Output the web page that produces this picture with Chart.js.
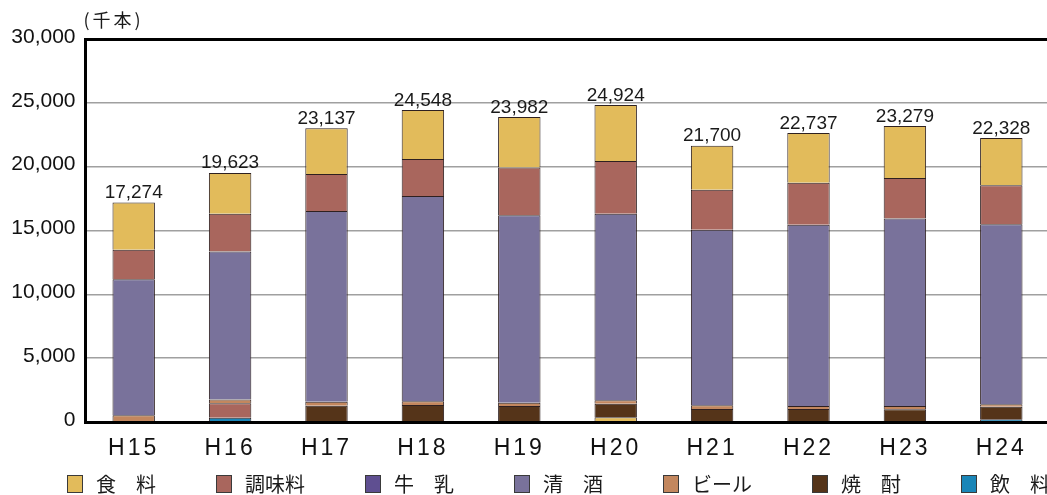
<!DOCTYPE html>
<html><head><meta charset="utf-8">
<script src="https://cdn.jsdelivr.net/npm/chart.js@4/dist/chart.umd.min.js"></script>
<style>
html,body{margin:0;padding:0;overflow:hidden;background:#fff;width:1047px;height:495px}
#wrap{position:absolute;left:0;top:0;width:1100px;height:504px}
</style>
</head><body><div id="wrap"><canvas id="c" width="1100" height="504"></canvas></div>
<script>
// ---- data (values in 千本) ----
const categories = ['H15','H16','H17','H18','H19','H20','H21','H22','H23','H24'];
const totals     = [17274, 19623, 23137, 24548, 23982, 24924, 21700, 22737, 23279, 22328];
const food       = [3700, 3200, 3590, 3830, 3960, 4380, 3440, 3880, 4060, 3700];   // 食料
const seasoning  = [2300, 2950, 2890, 2890, 3730, 4140, 3130, 3300, 3180, 3050];   // 調味料
const milk       = [null, null, null, null, null, null, null, null, null, null];   // 牛乳
const sake       = [10670, 11590, 14950, 16090, 14690, 14610, 13750, 14200, 14690, 14090]; // 清酒
const beer       = [520, 310, 310, 290, 260, 270, 290, 230, 260, 210];             // ビール
const shochu     = [null, 1120, 1270, 1330, 1250, 1060, 1020, 1020, 990, 980];     // 焼酎
const drinks     = [null, 340, null, null, null, 370, null, null, null, 210];      // 飲料
const yTicks     = [0, 5000, 10000, 15000, 20000, 25000, 30000];
const unitLabel  = '(千本)';

// ---- styles ----
const COL = {
  food:'#e2bb5b', seasoning:'#a9665d', milk:'#5f4f91', sake:'#79729b',
  beer:'#c3875e', shochu:'#553419', drinks:'#1a86b8'
};
const shochuColors = categories.map((c,i)=> i===1 ? COL.seasoning : COL.shochu);
const drinksColors = categories.map((c,i)=> i===5 ? COL.food : COL.drinks);

function legendImg(color){
  const c=document.createElement('canvas'); c.width=63; c.height=18;
  const g=c.getContext('2d');
  g.fillStyle=color; g.fillRect(44,0,16,18);
  g.strokeStyle='#3a3a3a'; g.lineWidth=1; g.strokeRect(44.5,0.5,15,17);
  return c;
}

const series = [
  {label:'飲　料', data:drinks,    backgroundColor:drinksColors,  legendColor:COL.drinks},
  {label:'焼　酎', data:shochu,    backgroundColor:shochuColors,  legendColor:COL.shochu},
  {label:'ビール', data:beer,      backgroundColor:COL.beer,      legendColor:COL.beer},
  {label:'清　酒', data:sake,      backgroundColor:COL.sake,      legendColor:COL.sake},
  {label:'牛　乳', data:milk,      backgroundColor:COL.milk,      legendColor:COL.milk},
  {label:'調味料', data:seasoning, backgroundColor:COL.seasoning, legendColor:COL.seasoning},
  {label:'食　料', data:food,      backgroundColor:COL.food,      legendColor:COL.food}
];
const legendImgs = series.map(s=>legendImg(s.legendColor));

const totalsPlugin = {
  id:'totals',
  afterDatasetsDraw(chart){
    const ctx=chart.ctx;
    const meta=chart.getDatasetMeta(chart.data.datasets.length-1);
    ctx.save();
    ctx.font='19px "Liberation Sans", Arial, sans-serif';
    ctx.fillStyle='#1a1a1a'; ctx.textAlign='center'; ctx.textBaseline='alphabetic';
    meta.data.forEach((bar,i)=>{ ctx.fillText(totals[i].toLocaleString('en-US'), bar.x, bar.y-4.5); });
    ctx.restore();
    ctx.letterSpacing='3px';
  },
  afterDraw(chart){
    const ctx=chart.ctx;
    ctx.save();
    ctx.letterSpacing='3px';
    ctx.font='18px "Noto Sans CJK JP", sans-serif';
    ctx.fillStyle='#1a1a1a'; ctx.textAlign='left'; ctx.textBaseline='alphabetic';
    ctx.fillText(unitLabel, chart.chartArea.left-2, 27);
    ctx.restore();
    ctx.letterSpacing='0px';
  }
};

Chart.defaults.font.family='"Liberation Sans", Arial, sans-serif';
new Chart(document.getElementById('c'), {
  type:'bar',
  data:{
    labels:categories,
    datasets:series.map(s=>({label:s.label, data:s.data, backgroundColor:s.backgroundColor,
      borderColor:'#2e2020', borderWidth:1}))
  },
  options:{
    responsive:false, animation:false, locale:'en-US',
    layout:{padding:{top:39,left:7,right:0,bottom:0}},
    datasets:{bar:{categoryPercentage:1, barPercentage:0.44}},
    scales:{
      x:{stacked:true,
        grid:{display:false, drawTicks:false},
        border:{display:true, color:'#000', width:3, z:1},
        ticks:{z:1, padding:13, color:'#111', font:{size:23}, autoSkip:false, maxRotation:0},
        afterFit(s){ s.height=36; }},
      y:{stacked:true, min:0, max:30000,
        afterBuildTicks(s){ s.ticks=yTicks.map(v=>({value:v})); },
        grid:{drawTicks:false,
          color:(c)=> (c.tick && c.tick.value===30000) ? '#000' : '#a0a0a0',
          lineWidth:(c)=> (c.tick && c.tick.value===30000) ? 3 : 1.5},
        border:{color:'#000', width:3},
        ticks:{padding:10, color:'#111', font:{size:21}, labelOffset:-2},
        afterFit(s){ s.width=78.5; }},
      yR:{type:'linear', position:'right', display:true,
        grid:{display:false, drawTicks:false}, border:{display:false}, ticks:{display:false},
        afterFit(s){ s.width=50.5; }}
    },
    plugins:{
      tooltip:{enabled:false},
      legend:{position:'bottom', align:'start', reverse:true,
        labels:{usePointStyle:true, pointStyleWidth:63, padding:16, color:'#1a1a1a',
          font:{family:'"Noto Sans CJK JP", sans-serif', size:20},
          generateLabels(chart){
            const items=Chart.defaults.plugins.legend.labels.generateLabels(chart);
            items.forEach(it=>{ it.pointStyle=legendImgs[it.datasetIndex]; });
            return items;
          }}}
    }
  },
  plugins:[totalsPlugin]
});
</script></body></html>
